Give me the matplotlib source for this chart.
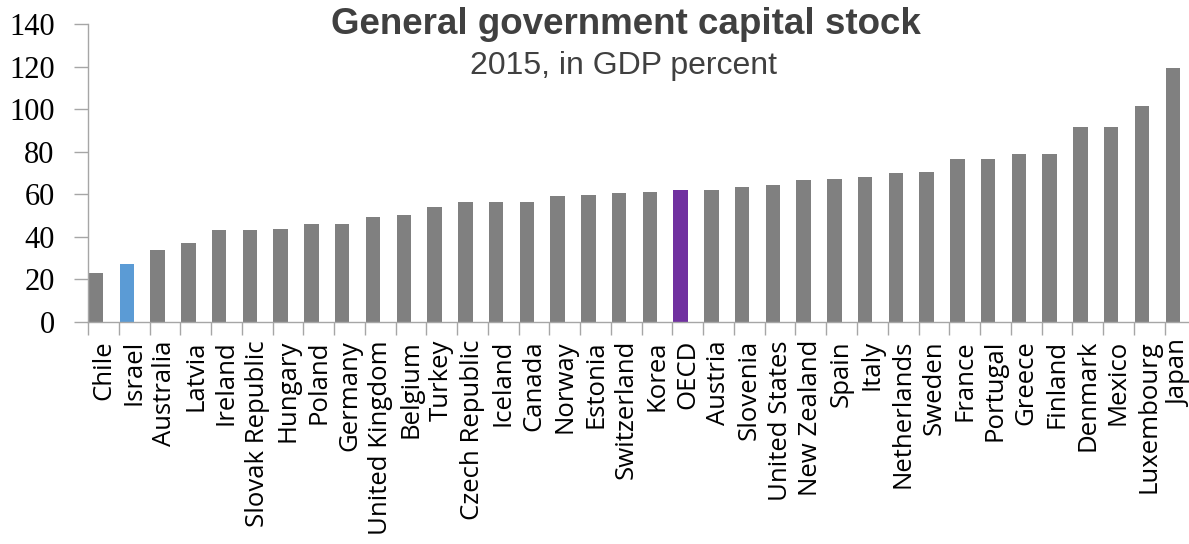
import matplotlib
matplotlib.use("Agg")
import matplotlib.pyplot as plt
import numpy as np

countries = ["Chile", "Israel", "Australia", "Latvia", "Ireland", "Slovak Republic",
             "Hungary", "Poland", "Germany", "United Kingdom", "Belgium", "Turkey",
             "Czech Republic", "Iceland", "Canada", "Norway", "Estonia", "Switzerland",
             "Korea", "OECD", "Austria", "Slovenia", "United States", "New Zealand",
             "Spain", "Italy", "Netherlands", "Sweden", "France", "Portugal", "Greece",
             "Finland", "Denmark", "Mexico", "Luxembourg", "Japan"]
values = [23.0, 27.1, 34.0, 37.3, 43.3, 43.4, 43.6, 46.0, 46.0, 49.4, 50.5, 54.0,
          56.3, 56.4, 56.6, 59.0, 59.7, 60.5, 61.3, 61.9, 61.9, 63.4, 64.3, 66.9,
          67.4, 67.9, 69.9, 70.4, 76.7, 76.8, 78.9, 78.9, 91.4, 91.6, 101.6, 119.3]
highlight = {"Israel": "#5B9BD5", "OECD": "#7030A0"}
base_color = "#808080"
yticks = [0, 20, 40, 60, 80, 100, 120, 140]

fig = plt.figure(figsize=(11.89, 5.44), dpi=100)
W, H = 1189, 544
left_px, right_px, top_px, bottom_px = 88, 88 + 36 * 30.76, 24, 322
ax = fig.add_axes([left_px / W, 1 - bottom_px / H, (right_px - left_px) / W, (bottom_px - top_px) / H])

n = len(countries)
x = np.arange(n)
colors = [highlight.get(c, base_color) for c in countries]
ax.bar(x - 0.5 + 0.03, values, width=0.47, align="edge", color=colors, zorder=2)

ax.set_xlim(-0.5, n - 0.5)
ax.set_ylim(0, 140)
ax.set_yticks(yticks)
ax.set_yticklabels([str(v) for v in yticks], fontfamily="Liberation Serif", fontsize=22)

ax.set_xticks(x)
ax.set_xticklabels(countries, rotation=90, fontfamily="Open Sans", fontsize=18.5)
ax.set_xticks(np.arange(n + 1) - 0.5, minor=True)
ax.tick_params(axis="x", which="major", length=0, pad=13)
ax.tick_params(axis="x", which="minor", length=9, color="#A6A6A6", width=1)
ax.tick_params(axis="y", length=10, color="#A6A6A6", width=1, pad=14)

for s in ["top", "right"]:
    ax.spines[s].set_visible(False)
for s in ["left", "bottom"]:
    ax.spines[s].set_color("#A6A6A6")
    ax.spines[s].set_linewidth(1)

fig.text(626 / W, 1 - 25 / H, "General government capital stock", ha="center", va="center",
         fontfamily="Liberation Sans", fontweight="bold", fontsize=26.5, color="#404040")
fig.text(623 / W, 1 - 66 / H, "2015, in GDP percent", ha="center", va="center",
         fontfamily="Liberation Sans", fontsize=23, color="#404040")

fig.savefig("out.png", dpi=100)
